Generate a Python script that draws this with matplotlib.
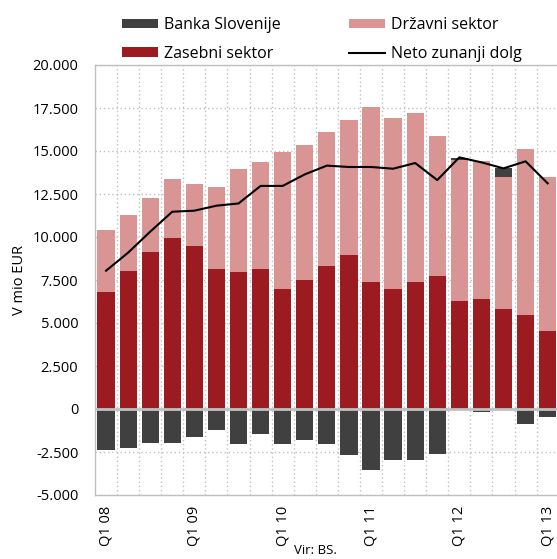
import numpy as np
import matplotlib
matplotlib.use("Agg")
import matplotlib.pyplot as plt
from matplotlib.ticker import FuncFormatter, MultipleLocator

plt.rcParams["font.family"] = ["Open Sans", "DejaVu Sans"]

# Quarterly data, mio EUR
quarters = ["Q1 08", "Q2 08", "Q3 08", "Q4 08",
            "Q1 09", "Q2 09", "Q3 09", "Q4 09",
            "Q1 10", "Q2 10", "Q3 10", "Q4 10",
            "Q1 11", "Q2 11", "Q3 11", "Q4 11",
            "Q1 12", "Q2 12", "Q3 12", "Q4 12",
            "Q1 13"]
banka_slovenije = [-2380, -2290, -1960, -1960, -1630, -1200, -2030, -1450,
                   -2030, -1800, -2050, -2690, -3550, -2970, -2970, -2620,
                   100, -190, 520, -870, -450]
zasebni_sektor = [6820, 8040, 9150, 9960, 9500, 8140, 7980, 8140,
                  6980, 7480, 8310, 8950, 7400, 6980, 7400, 7730,
                  6290, 6400, 5800, 5480, 4550]
drzavni_sektor = [3590, 3220, 3120, 3390, 3580, 4790, 5950, 6200,
                  7940, 7870, 7800, 7830, 10140, 9960, 9810, 8120,
                  8190, 8020, 7710, 9620, 8960]
neto_dolg = [8040, 9090, 10310, 11470, 11530, 11820, 11950, 12970,
             12970, 13640, 14150, 14070, 14070, 13970, 14300, 13310,
             14630, 14340, 13990, 14400, 13120]

C_BS = "#404040"
C_ZAS = "#9b1b20"
C_DRZ = "#d99594"
C_GRID = "#c0c0c0"

x = np.arange(len(quarters))
bs = np.array(banka_slovenije)
zas = np.array(zasebni_sektor)
drz = np.array(drzavni_sektor)
bs_bottom = np.where(bs > 0, zas + drz, 0)

fig = plt.figure(figsize=(5.57, 5.59), dpi=100)
ax = fig.add_axes([95 / 557, 1 - 495 / 559, 463.7 / 557, 430 / 559])

w = 0.78
b_zas = ax.bar(x, zas, w, color=C_ZAS, zorder=2, label="Zasebni sektor")
b_drz = ax.bar(x, drz, w, bottom=zas, color=C_DRZ, zorder=2, label="Državni sektor")
b_bs = ax.bar(x, bs, w, bottom=bs_bottom, color=C_BS, zorder=2, label="Banka Slovenije")
l_neto, = ax.plot(x, neto_dolg, color="black", lw=1.5, zorder=4, label="Neto zunanji dolg")
ax.axhline(0, color=C_GRID, lw=2, zorder=3)

ax.set_xlim(-0.5, len(quarters) - 0.5)
ax.set_ylim(-5000, 20000)
ax.yaxis.set_major_locator(MultipleLocator(2500))
ax.yaxis.set_major_formatter(FuncFormatter(lambda v, p: f"{int(v):,}".replace(",", ".")))

# dotted grid, vertical lines between bars
ax.set_xticks(x[::4])
ax.set_xticklabels(quarters[::4], rotation=90, fontsize=10.5)
ax.set_xticks(x[:-1] + 0.5, minor=True)
ax.grid(axis="y", which="major", ls=(0, (1, 2)), color=C_GRID, lw=1, zorder=0)
ax.grid(axis="x", which="minor", ls=(0, (1, 2)), color=C_GRID, lw=1, zorder=0)
ax.tick_params(axis="both", which="both", length=0, labelsize=10.5, colors="black")
ax.tick_params(axis="x", pad=8)
ax.tick_params(axis="y", pad=12)
for s in ax.spines.values():
    s.set_color(C_GRID)
    s.set_linewidth(1)

ax.set_ylabel("V mio EUR", fontsize=10.5, labelpad=4)

handles = [b_bs, b_zas, b_drz, l_neto]
fig.legend(handles, [hd.get_label() for hd in handles], ncol=2,
           loc="upper left", bbox_to_anchor=(0.194, 0.995), frameon=False,
           fontsize=11.5, handlelength=2.25, handleheight=0.55,
           labelspacing=0.8, columnspacing=4.3, handletextpad=0.35)

fig.text(315 / 557, 1 - 551 / 559, "Vir: BS.", ha="center", va="center", fontsize=9.5)

fig.savefig("out.png", dpi=100)
